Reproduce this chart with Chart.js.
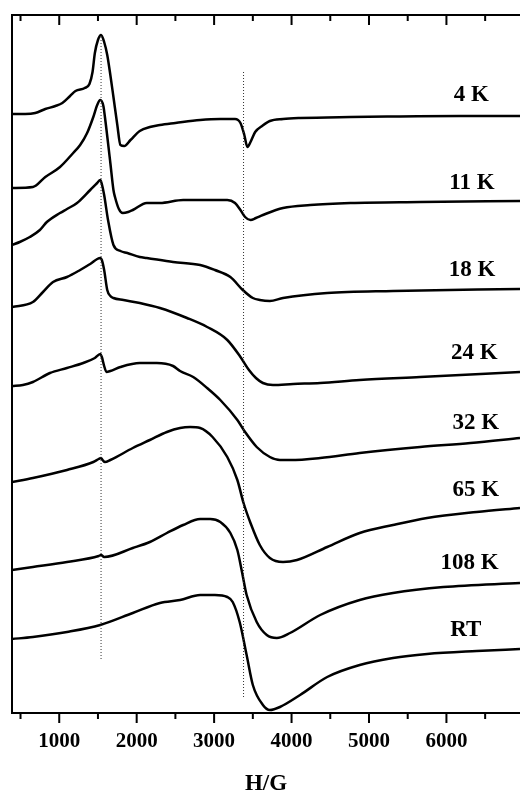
<!DOCTYPE html>
<html>
<head>
<meta charset="utf-8">
<script src="https://cdn.jsdelivr.net/npm/chart.js@4.4.0/dist/chart.umd.min.js"></script>
<style>
  html, body { margin: 0; padding: 0; background: #fff; overflow: hidden; }
  canvas { display: block; }
</style>
</head>
<body>
<canvas id="epr" width="520" height="793"></canvas>
<script>
// EPR derivative spectra vs temperature, stacked with vertical offsets (arbitrary units).
// Field values in gauss.

const field4K = [390, 560, 690, 820, 950, 1040, 1140, 1210, 1330, 1390, 1430, 1460, 1500, 1540, 1580, 1620, 1660, 1700, 1750, 1790, 1840, 1920, 2040, 2170, 2300, 2500, 2820, 3080, 3270, 3340, 3390, 3430, 3470, 3530, 3620, 3720, 3890, 4110, 4760, 5400, 6180, 6950];
const signal4K = [599, 599, 600, 604, 607, 610, 617, 622, 625, 629, 641, 660, 673, 678, 671, 658, 638, 616, 588, 568, 567, 573, 582, 586, 588, 590, 593, 594, 594, 590, 578, 566, 571, 581, 587, 592, 594, 595, 596, 596.5, 597, 597];

const field11K = [390, 660, 820, 1010, 1180, 1270, 1360, 1440, 1490, 1530, 1570, 1590, 1660, 1700, 1720, 1770, 1820, 1890, 1950, 2130, 2300, 2600, 3170, 3270, 3340, 3400, 3470, 3540, 3630, 3890, 4240, 4760, 5660, 6950];
const signal11K = [525, 526, 536, 546, 560, 568, 580, 596, 608, 613, 607, 596, 550, 523, 516, 504, 500, 501, 503, 510, 510, 513, 513, 510, 503, 496, 493, 495, 498, 505, 508, 510, 511, 512];

const field18K = [390, 490, 620, 750, 840, 1010, 1100, 1230, 1400, 1490, 1530, 1550, 1580, 1630, 1700, 1790, 1880, 2040, 2130, 2470, 2820, 3010, 3210, 3370, 3500, 3590, 3720, 3890, 4460, 5310, 6950];
const signal18K = [468, 471, 476, 483, 491, 500, 504, 510, 523, 530, 533, 529, 518, 493, 468, 462, 460, 456, 455, 451, 448, 443, 436, 423, 415, 413, 412, 415, 420, 422, 424];

const field24K = [390, 660, 790, 920, 1100, 1270, 1400, 1530, 1550, 1580, 1620, 1660, 1700, 1830, 2040, 2300, 2650, 2910, 3170, 3340, 3450, 3540, 3630, 3760, 4020, 4370, 4880, 5660, 6950];
const signal24K = [406, 411, 421, 431, 436, 443, 449, 455, 453, 443, 423, 417, 415, 413, 410, 405, 395, 386, 373, 356, 343, 335, 330, 328, 329, 330, 333, 336, 341];

const field32K = [390, 530, 660, 880, 1100, 1310, 1460, 1530, 1550, 1580, 1610, 1660, 1790, 2040, 2260, 2470, 2560, 2730, 2910, 3080, 3300, 3400, 3550, 3720, 3850, 3980, 4370, 4880, 5660, 6310, 6950];
const signal32K = [327, 328, 331, 340, 345, 350, 355, 359, 356, 347, 341, 342, 346, 350, 350, 347, 342, 336, 325, 313, 293, 281, 266, 256, 253, 253, 255, 260, 266, 270, 275];

const field65K = [390, 660, 1100, 1440, 1510, 1540, 1560, 1590, 1660, 1950, 2170, 2390, 2560, 2690, 2820, 2980, 3170, 3300, 3380, 3470, 3590, 3720, 3890, 4070, 4460, 4880, 5310, 5750, 6390, 6950];
const signal65K = [231, 235, 243, 251, 254, 255, 253, 251, 253, 265, 273, 281, 285, 286, 285, 276, 256, 233, 210, 190, 168, 155, 151, 153, 166, 180, 188, 195, 201, 205];

const field108K = [390, 660, 1100, 1510, 1540, 1580, 1950, 2170, 2390, 2600, 2820, 2950, 3080, 3210, 3300, 3360, 3420, 3550, 3680, 3810, 3980, 4370, 4880, 5310, 5960, 6950];
const signal108K = [143, 146, 151, 157, 158, 156, 165, 171, 180, 188, 194, 194, 191, 180, 163, 141, 118, 91, 78, 75, 80, 98, 113, 120, 126, 130];

const fieldRT = [390, 660, 1100, 1530, 1950, 2300, 2560, 2820, 3010, 3170, 3240, 3330, 3420, 3500, 3630, 3720, 3850, 4110, 4460, 4880, 5310, 5750, 6390, 6950];
const signalRT = [74, 76, 81, 88, 100, 110, 113, 118, 118, 116, 111, 91, 58, 28, 8, 3, 6, 18, 36, 48, 55, 59, 62, 64];

// Temperature labels, placed in data coordinates
const temperatures = ['4 K', '11 K', '18 K', '24 K', '32 K', '65 K', '108 K', 'RT'];
const labelField = [6320, 6330, 6330, 6360, 6380, 6380, 6300, 6250];
const labelLevel = [618, 530, 443, 360, 290, 223, 150, 83];

// Reference field positions marked with dotted guides
const guideField = [1540, 3380];
const guideTop = [676, 641];
const guideBottom = [53, 16];

// Axis range and ticks
const fieldMin = 390, fieldMax = 6950;
const tickStep = 500;
const labelStep = 1000;

const fields = [field4K, field11K, field18K, field24K, field32K, field65K, field108K, fieldRT];
const signals = [signal4K, signal11K, signal18K, signal24K, signal32K, signal65K, signal108K, signalRT];

const SERIF = '"Liberation Serif", "Times New Roman", serif';

const guideSets = guideField.map((f, i) => ({
  data: [{ x: f, y: guideTop[i] }, { x: f, y: guideBottom[i] }],
  borderColor: '#333',
  borderWidth: 1,
  borderDash: [1, 2],
  pointRadius: 0,
  tension: 0,
  fill: false
}));

const traceSets = fields.map((f, i) => ({
  label: temperatures[i],
  data: f.map((h, j) => ({ x: h, y: signals[i][j] })),
  borderColor: '#000',
  borderWidth: 2.5,
  pointRadius: 0,
  cubicInterpolationMode: 'monotone',
  fill: false
}));

// Frame, tick marks and temperature labels
const framePlugin = {
  id: 'frame',
  afterDraw(chart) {
    const { ctx, chartArea: a, scales: { x, y } } = chart;
    ctx.save();
    ctx.strokeStyle = '#000';
    ctx.lineWidth = 2;
    ctx.beginPath();
    ctx.moveTo(a.left - 1, a.top);
    ctx.lineTo(a.right, a.top);
    ctx.moveTo(a.left, a.top);
    ctx.lineTo(a.left, a.bottom);
    ctx.moveTo(a.left - 1, a.bottom);
    ctx.lineTo(a.right, a.bottom);
    ctx.stroke();

    ctx.beginPath();
    x.ticks.forEach(t => {
      const px = x.getPixelForValue(t.value);
      const len = t.value % labelStep === 0 ? 10 : 6;
      ctx.moveTo(px, a.bottom);
      ctx.lineTo(px, a.bottom + len);
      ctx.moveTo(px, a.top);
      ctx.lineTo(px, a.top + len);
    });
    ctx.stroke();

    ctx.fillStyle = '#000';
    ctx.font = 'bold 23px ' + SERIF;
    ctx.textAlign = 'center';
    ctx.textBaseline = 'middle';
    temperatures.forEach((t, i) => {
      ctx.fillText(t, x.getPixelForValue(labelField[i]), y.getPixelForValue(labelLevel[i]));
    });
    ctx.restore();
  }
};

new Chart(document.getElementById('epr'), {
  type: 'line',
  data: { datasets: [...guideSets, ...traceSets] },
  options: {
    responsive: false,
    animation: false,
    events: [],
    layout: { padding: { top: 15, left: 12, right: 0, bottom: 0 } },
    plugins: { legend: { display: false }, tooltip: { enabled: false } },
    scales: {
      x: {
        type: 'linear',
        position: 'bottom',
        min: fieldMin,
        max: fieldMax,
        afterBuildTicks(scale) {
          const t = [];
          for (let v = Math.ceil(fieldMin / tickStep) * tickStep; v <= fieldMax; v += tickStep) t.push({ value: v });
          scale.ticks = t;
        },
        afterFit(scale) { scale.height = 80; },
        grid: { display: false, drawTicks: false },
        border: { display: false },
        ticks: {
          autoSkip: false,
          maxRotation: 0,
          padding: 16,
          color: '#000',
          font: { family: SERIF, size: 21, weight: 'bold' },
          callback: v => (v % labelStep === 0 ? String(v) : '')
        },
        title: {
          display: true,
          text: 'H/G',
          color: '#000',
          font: { family: SERIF, size: 23, weight: 'bold', lineHeight: 0.8 },
          padding: { top: 0, bottom: 0 }
        }
      },
      y: {
        display: false,
        min: 0,
        max: 698
      }
    }
  },
  plugins: [framePlugin]
});
</script>
</body>
</html>
